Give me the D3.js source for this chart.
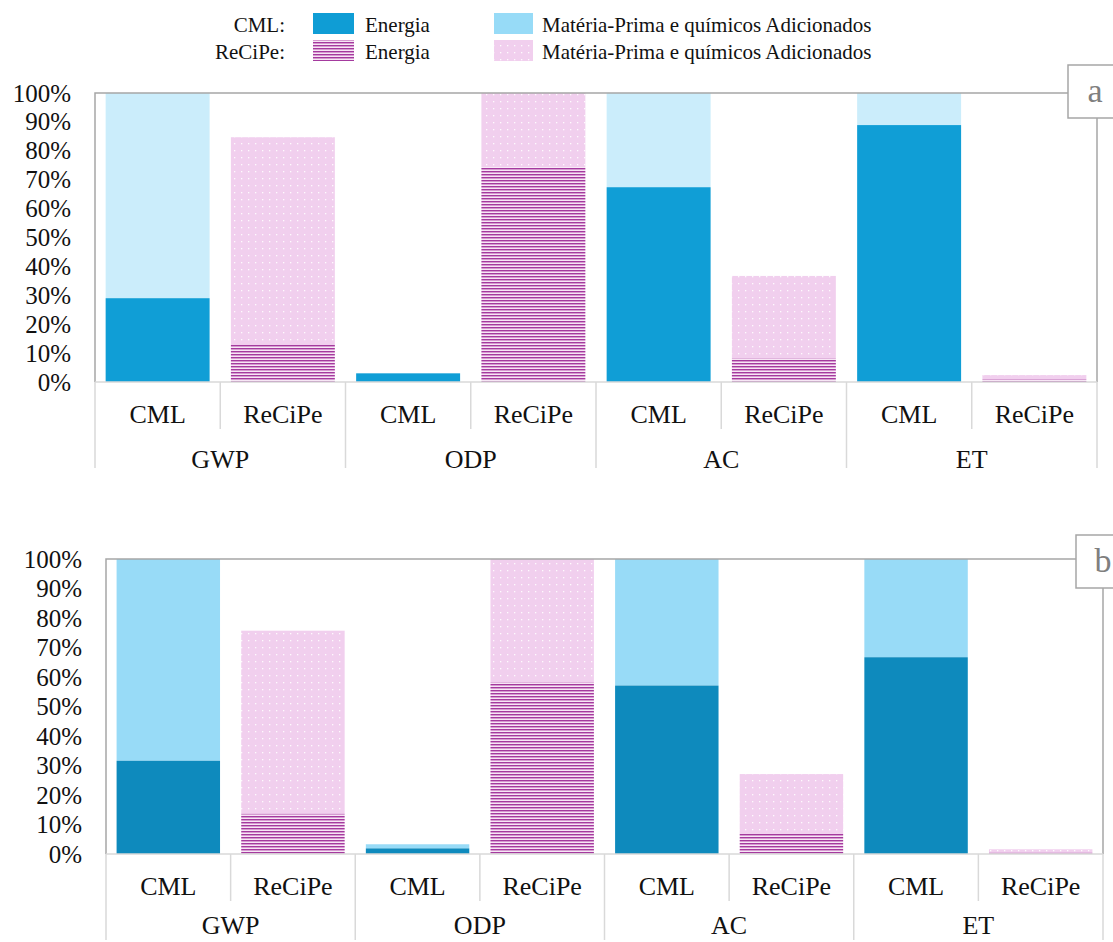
<!DOCTYPE html>
<html>
<head>
<meta charset="utf-8">
<script src="https://cdn.jsdelivr.net/npm/d3@7"></script>
<style>
  html, body { margin: 0; padding: 0; background: #ffffff; }
  svg { display: block; font-family: "Liberation Serif", "Times New Roman", serif; }
</style>
</head>
<body>
<script>
// Impact categories and LCIA methods
const indicators = ["GWP", "ODP", "AC", "ET"];
const methods = ["CML", "ReCiPe"];
const yTicks = [0, 10, 20, 30, 40, 50, 60, 70, 80, 90, 100];

// Contributions (%) per indicator × method: GWP-CML, GWP-ReCiPe, ODP-CML, ODP-ReCiPe, AC-CML, AC-ReCiPe, ET-CML, ET-ReCiPe
const energiaA = [29.0, 12.8, 3.0, 74.3, 67.4, 8.2, 88.9, 1.0];
const materiaA = [71.0, 71.9, 0.0, 25.7, 32.6, 28.5, 11.1, 1.4];
const energiaB = [31.6, 13.6, 1.9, 58.2, 57.1, 6.8, 66.7, 0.4];
const materiaB = [68.4, 62.1, 1.4, 41.8, 42.9, 20.3, 33.3, 1.2];

const legendLabels = ["Energia", "Matéria-Prima e químicos Adicionados"];

const W = 1113, H = 942;
const svg = d3.select("body").append("svg").attr("width", W).attr("height", H);
const defs = svg.append("defs");

// Horizontal stripes for ReCiPe energy
const stripes = defs.append("pattern").attr("id", "stripes")
  .attr("patternUnits", "userSpaceOnUse").attr("width", 6).attr("height", 3);
stripes.append("rect").attr("width", 6).attr("height", 3).attr("fill", "#f7e6f5");
stripes.append("rect").attr("y", 0).attr("width", 6).attr("height", 1).attr("fill", "#a43a9e");
stripes.append("rect").attr("y", 1).attr("width", 6).attr("height", 1).attr("fill", "#d59ad0");

// White dots on pink for ReCiPe raw materials
const dots = defs.append("pattern").attr("id", "dots")
  .attr("patternUnits", "userSpaceOnUse").attr("width", 7).attr("height", 7);
dots.append("rect").attr("width", 7).attr("height", 7).attr("fill", "#f1cfee");
dots.append("rect").attr("x", 3).attr("y", 3).attr("width", 1.3).attr("height", 1.3).attr("fill", "#ffffff").attr("opacity", 0.9);

const keys = indicators.flatMap(ind => methods.map(m => ind + "|" + m));

function drawPanel(cfg) {
  const g = svg.append("g");
  const x = d3.scaleBand().domain(keys).range([cfg.left, cfg.right])
    .paddingInner(0.17).paddingOuter(0.085);
  const y = d3.scaleLinear().domain([0, 100]).range([cfg.bottom, cfg.top]);
  const step = x.step();

  // y axis labels
  const yAxis = d3.axisLeft(y).tickValues(yTicks).tickFormat(d => d + "%")
    .tickSize(0).tickPadding(24);
  const ya = g.append("g").attr("transform", `translate(${cfg.left},0)`).call(yAxis);
  ya.select(".domain").remove();
  ya.selectAll("text").attr("font-size", 25).attr("fill", "#111")
    .attr("font-family", "Liberation Serif, Times New Roman, serif");

  // bars
  const rows = keys.map((k, i) => ({
    key: k, method: k.split("|")[1], e: cfg.energia[i], m: cfg.materia[i]
  }));
  const bars = g.append("g");
  rows.forEach(r => {
    const isCML = r.method === "CML";
    if (r.m > 0) {
      bars.append("rect")
        .attr("x", x(r.key)).attr("width", x.bandwidth())
        .attr("y", y(r.e + r.m)).attr("height", y(r.e) - y(r.e + r.m))
        .attr("fill", isCML ? cfg.cmlMat : "url(#dots)");
    }
    if (r.e > 0) {
      bars.append("rect")
        .attr("x", x(r.key)).attr("width", x.bandwidth())
        .attr("y", y(r.e)).attr("height", y(0) - y(r.e))
        .attr("fill", isCML ? cfg.cmlEn : "url(#stripes)");
    }
  });

  // frame: left, top and right borders
  g.append("path")
    .attr("d", `M${cfg.left},${cfg.bottom}V${cfg.top}H${cfg.right}V${cfg.bottom}`)
    .attr("fill", "none").attr("stroke", "#a6a6a6").attr("stroke-width", 1.5);

  // category axis line
  g.append("line").attr("x1", cfg.left).attr("x2", cfg.right)
    .attr("y1", cfg.bottom).attr("y2", cfg.bottom)
    .attr("stroke", "#d9d9d9").attr("stroke-width", 1.5);

  // dividers between methods and between indicators
  keys.forEach((k, i) => {
    const bx = x(k) - step * x.paddingInner() / 2;
    const isGroup = i % 2 === 0;
    g.append("line").attr("x1", bx).attr("x2", bx)
      .attr("y1", cfg.bottom).attr("y2", cfg.bottom + (isGroup ? 86 : 47))
      .attr("stroke", "#d9d9d9").attr("stroke-width", 1.5);
  });
  g.append("line").attr("x1", cfg.right).attr("x2", cfg.right)
    .attr("y1", cfg.bottom).attr("y2", cfg.bottom + 86)
    .attr("stroke", "#d9d9d9").attr("stroke-width", 1.5);

  // method labels
  g.selectAll(".mlab").data(keys).join("text")
    .attr("x", k => x(k) + x.bandwidth() / 2).attr("y", cfg.bottom + 41)
    .attr("text-anchor", "middle").attr("font-size", 26).attr("fill", "#111")
    .text(k => k.split("|")[1]);

  // indicator labels
  g.selectAll(".glab").data(indicators).join("text")
    .attr("x", (d, i) => cfg.left + step * (2 * i + 1)).attr("y", cfg.bottom + cfg.groupDy)
    .attr("text-anchor", "middle").attr("font-size", 26).attr("fill", "#111")
    .text(d => d);

  // panel tag
  g.append("rect").attr("x", cfg.boxX).attr("y", cfg.boxY).attr("width", 80).attr("height", 53)
    .attr("fill", "#fff").attr("stroke", "#a6a6a6").attr("stroke-width", 1.5);
  g.append("text").attr("x", cfg.boxX + 27).attr("y", cfg.boxY + 37)
    .attr("text-anchor", "middle").attr("font-size", 34).attr("fill", "#7f7f7f")
    .text(cfg.tag);
}

drawPanel({
  left: 95, right: 1097, top: 93, bottom: 382,
  energia: energiaA, materia: materiaA,
  cmlEn: "#109ed6", cmlMat: "#cbedfb",
  tag: "a", boxX: 1068, boxY: 65, groupDy: 86
});

drawPanel({
  left: 106, right: 1103, top: 559, bottom: 854,
  energia: energiaB, materia: materiaB,
  cmlEn: "#0e8abd", cmlMat: "#98dbf7",
  tag: "b", boxX: 1076, boxY: 535, groupDy: 80
});

// legend
const lg = svg.append("g").attr("font-size", 21).attr("fill", "#111");
const legendRows = [
  { name: "CML:", fills: ["#0f9dd5", "#97dbf7"], y: 13 },
  { name: "ReCiPe:", fills: ["url(#stripes)", "url(#dots)"], y: 40 }
];
const colSwatch = [313, 494], colText = [365, 542];
legendRows.forEach(r => {
  lg.append("text").attr("x", 285).attr("y", r.y + 19).attr("text-anchor", "end").text(r.name);
  r.fills.forEach((f, j) => {
    lg.append("rect").attr("x", colSwatch[j]).attr("y", r.y)
      .attr("width", j === 0 ? 41 : 39).attr("height", 21).attr("fill", f);
    lg.append("text").attr("x", colText[j]).attr("y", r.y + 19).text(legendLabels[j]);
  });
});
</script>
</body>
</html>
